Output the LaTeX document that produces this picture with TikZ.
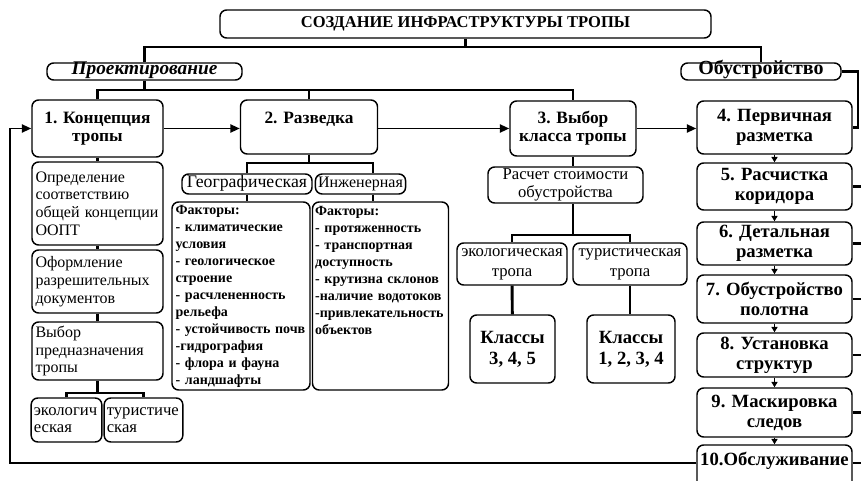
\documentclass[tikz,border=0pt]{standalone}
\usepackage{fontspec}
\setmainfont{Liberation Serif}
\usetikzlibrary{arrows.meta}
\newcommand\myfs[2]{\fontsize{#1}{#2}\selectfont}
\begin{document}
\begin{tikzpicture}[x=0.75pt,y=-0.75pt,
  wh/.style 2 args={minimum width=#1pt, minimum height=#2pt},
  box/.style={draw, rounded corners=5pt, line width=1.1pt, inner xsep=2pt, inner ysep=0pt, align=center},
  one/.style={text height=0.7em, text depth=0.2em},
  hd/.style={box, font=\bfseries\myfs{13pt}{13.5pt}},
  rc/.style={box, font=\bfseries\myfs{14pt}{15pt}},
  lb/.style={box, align=left, text width=93pt, font=\myfs{12pt}{13.3pt}},
  sb/.style={box, align=left, font=\myfs{12.5pt}{12.5pt}},
  fb/.style={box, align=left, text width=98pt, font=\bfseries\myfs{10.5pt}{12.75pt}},
  rg/.style={box, font=\myfs{12.5pt}{13pt}},
  tr/.style={box, font=\myfs{12.5pt}{15pt}},
  cl/.style={box, font=\bfseries\myfs{14pt}{15.5pt}},
  conn/.style={line width=2.2pt},
  arr/.style={line width=1.4pt, -{Triangle[length=7pt,width=6pt]}},
  sarr/.style={line width=1.3pt, -{Triangle[length=4pt,width=4.5pt]}}]
\useasboundingbox (0,0) rectangle (861,481);
\fill[white] (0,0) rectangle (861,481);

% top
\node[box, one, wh={368.25}{21}, font=\bfseries\myfs{12.4pt}{14pt}] (title) at (465.5,24) {СОЗДАНИЕ ИНФРАСТРУКТУРЫ ТРОПЫ};
\node[box, one, wh={146.25}{12.75}, font=\bfseries\itshape\myfs{14.5pt}{14pt}] (proj) at (144.5,71.5) {Проектирование};
\node[box, one, wh={120}{12.75}, font=\bfseries\myfs{15pt}{14pt}] (obus) at (761,71.5) {Обустройство};

% level 2
\node[hd, wh={98.25}{42.75}] (b1) at (97.5,128.5) {1. Концепция\\тропы};
\node[hd, wh={102.75}{40.5}] (b2) at (309,127) {2. Разведка\\~};
\node[hd, wh={94.5}{41.25}] (b3) at (573,128.5) {3. Выбор\\класса тропы};
\node[rc, wh={116.25}{39.75}] (b4) at (774.5,127.5) {4. Первичная\\разметка};
\node[rc, wh={116.25}{35.25}] (b5) at (774.5,186.5) {5. Расчистка\\коридора};
\node[rc, wh={116.25}{32.25}] (b6) at (774.5,243.5) {6. Детальная\\разметка};
\node[rc, wh={116.25}{36}] (b7) at (774.5,299) {7. Обустройство\\полотна};
\node[rc, wh={116.25}{33}] (b8) at (774.5,355) {8. Установка\\структур};
\node[rc, wh={116.25}{36.75}] (b9) at (774.5,412.5) {9. Маскировка\\следов};
\node[rc, wh={116.25}{37.5}, text height=8pt, text depth=15.5pt] (b10) at (774.5,470) {10.Обслуживание};

% left column
\node[lb, wh={98.25}{62.25}] (def) at (97.5,203.5) {Определение\\соответствию\\общей концепции\\ООПТ};
\node[lb, wh={98.25}{47.25}] (oform) at (97.5,281.5) {Оформление\\разрешительных\\документов};
\node[lb, wh={98.25}{43.5}] (vyb) at (97.5,351) {Выбор\\предназначения\\тропы};
\node[sb, wh={51.75}{33}, text width=49pt] (eko) at (66.5,420) {экологич\\еская};
\node[sb, wh={57.75}{33}, text width=55pt] (tur) at (143.5,420) {туристиче\\ская};

% exploration
\node[rg, one, wh={97.5}{15}, font=\myfs{13.3pt}{13pt}] (geo) at (247,184) {Географическая};
\node[rg, one, wh={63.75}{15}, font=\myfs{12pt}{13pt}] (ing) at (360.5,184) {Инженерная};
\node[fb, wh={103.5}{141}] (fac1) at (241,296) {Факторы:\\- климатические\\условия\\- геологическое\\строение\\- расчлененность\\рельефа\\- устойчивость почв\\-гидрография\\- флора и фауна\\- ландшафты};
\node[fb, wh={101.25}{141}] (fac2) at (380.5,296) {Факторы:\\- протяженность\\- транспортная\\доступность\\- крутизна склонов\\-наличие водотоков\\-привлекательность\\объектов\\~\\~\\~};

% class
\node[rg, wh={116.25}{27}] (rasch) at (565.5,185) {Расчет стоимости\\обустройства};
\node[tr, wh={82.5}{31.5}] (ekoT) at (512,264) {экологическая\\тропа};
\node[tr, wh={85.5}{31.5}] (turT) at (630,264) {туристическая\\тропа};
\node[cl, wh={63.75}{51}] (cls1) at (512.5,349) {Классы\\3, 4, 5};
\node[cl, wh={66}{51}] (cls2) at (631,349) {Классы\\1, 2, 3, 4};

% helper coordinates
\coordinate (t1) at (0,47);
\coordinate (t2) at (0,90);
\coordinate (t3) at (0,393);
\coordinate (t4) at (0,163);
\coordinate (t5) at (0,235);
\coordinate (x3) at (573,0);
\coordinate (x4) at (373,0);
\coordinate (rb) at (858,0);
\coordinate (rx) at (861,0);
\coordinate (fbk) at (10,463);

% tree connectors
\draw[conn] (title.south) -- (title.south |- t1);
\draw[conn] (proj.north) -- (proj.north |- t1) -- (obus.north |- t1) -- (obus.north);
\draw[conn] (proj.south) -- (proj.south |- t2);
\draw[conn] (b1.north) -- (b1.north |- t2) -- (b3.north |- t2) -- (b3.north);
\draw[conn] (b2.north) -- (b2.north |- t2);
\draw[conn] (obus.east) -- (obus.east -| rb) |- (b4.east);

\draw[conn] (b1) -- (def);
\draw[conn] (def) -- (oform);
\draw[conn] (oform) -- (vyb);
\draw[conn] (vyb.south) -- (vyb.south |- t3);
\draw[conn] (eko.north) -- (eko.north |- t3) -- (tur.north |- t3) -- (tur.north);

\draw[conn] (b2.south) -- (b2.south |- t4);
\draw[conn] (geo.north) -- (geo.north |- t4) -- (x4 |- t4) -- (x4 |- ing.north);
\draw[conn] (geo.south) -- (geo.south |- fac1.north);
\draw[conn] (x4 |- ing.south) -- (x4 |- fac2.north);

\draw[conn] (b3.south) -- (b3.south |- rasch.north);
\draw[conn] (x3 |- rasch.south) -- (x3 |- t5);
\draw[conn] (ekoT.north) -- (ekoT.north |- t5) -- (turT.north |- t5) -- (turT.north);
\draw[conn] (ekoT) -- (cls1);
\draw[conn] (turT.south) -- (turT.south |- cls2.north);

% process arrows
\draw[arr] (b1.east) -- (b2.west |- b1.east);
\draw[arr] (b2.east |- b1.east) -- (b3.west |- b1.east);
\draw[arr] (b3.east |- b1.east) -- (b4.west |- b1.east);
\draw[sarr] (b4) -- (b5);
\draw[sarr] (b5) -- (b6);
\draw[sarr] (b6) -- (b7);
\draw[sarr] (b7) -- (b8);
\draw[sarr] (b8) -- (b9);
\draw[sarr] (b9) -- (b10);
\draw[arr] (b10.west |- fbk) -- (fbk) |- (b1.west);

% right stubs
\draw[conn] (b5.east) -- (b5.east -| rx);
\draw[conn] (b6.east) -- (b6.east -| rx);
\draw[conn] (b7.east) -- (b7.east -| rx);
\draw[conn] (b8.east) -- (b8.east -| rx);
\draw[conn] (b9.east) -- (b9.east -| rx);
\draw[conn] (b10.east |- fbk) -- (rx |- fbk);
\end{tikzpicture}
\end{document}
